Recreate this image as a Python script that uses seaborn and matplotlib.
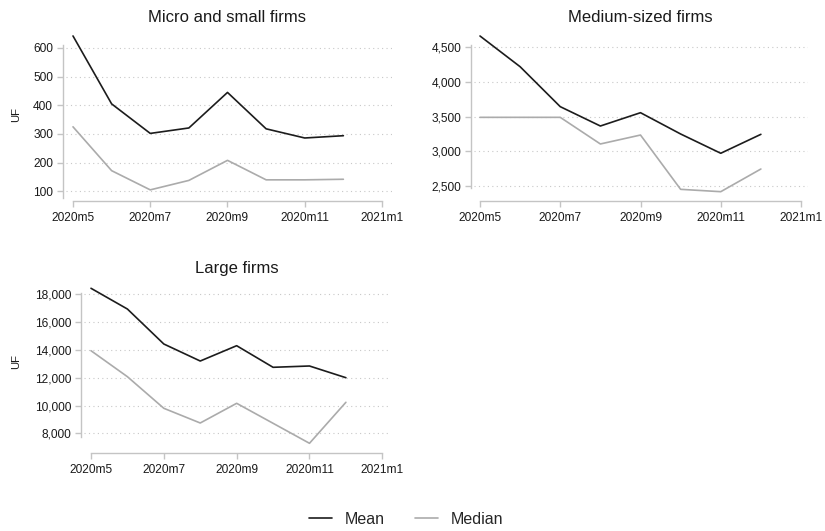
import numpy as np
import pandas as pd
import matplotlib
matplotlib.use("Agg")
import matplotlib.pyplot as plt
import seaborn as sns
from matplotlib.ticker import FuncFormatter
from matplotlib.lines import Line2D

# Monthly periods and axis labels
months = ["2020m5", "2020m6", "2020m7", "2020m8", "2020m9", "2020m10", "2020m11", "2020m12"]
tick_labels = ["2020m5", "2020m7", "2020m9", "2020m11", "2021m1"]
series_names = ["Mean", "Median"]

# Loan size in UF by firm size
micro_mean = [642, 405, 302, 321, 445, 318, 286, 294]
micro_median = [325, 172, 105, 138, 208, 140, 140, 142]
medium_mean = [4663, 4220, 3644, 3365, 3557, 3250, 2972, 3245]
medium_median = [3490, 3490, 3490, 3106, 3235, 2452, 2418, 2745]
large_mean = [18432, 16940, 14424, 13200, 14302, 12748, 12842, 12000]
large_median = [13942, 12072, 9799, 8741, 10158, 8720, 7281, 10230]

micro_ticks = [100, 200, 300, 400, 500, 600]
medium_ticks = [2500, 3000, 3500, 4000, 4500]
large_ticks = [8000, 10000, 12000, 14000, 16000, 18000]

sns.set_style("white")
plt.rcParams["font.family"] = ["Liberation Sans", "DejaVu Sans"]

W, H = 825, 531
fig = plt.figure(figsize=(W / 100, H / 100), dpi=100)

colors = {"Mean": "#1c1c1c", "Median": "#ababab"}
axis_gray = "#c4c4c4"


def long_frame(mean, median):
    n = len(months)
    return pd.DataFrame({
        "t": list(range(n)) * 2,
        "value": list(mean) + list(median),
        "stat": ["Mean"] * n + ["Median"] * n,
    })


def make_panel(box, xpx, yref):
    # box: left, top, right, bottom in pixels; xpx: pixel of first/last tick
    left, top, right, bottom = box
    ax = fig.add_axes([left / W, 1 - bottom / H, (right - left) / W, (bottom - top) / H])
    (v1, p1), (v2, p2) = yref
    k = (p1 - p2) / (v2 - v1)  # pixels per unit

    def val(py):
        return v1 + (p1 - py) / k

    mpx = (xpx[1] - xpx[0]) / 8.0
    ax.set_xlim(-(xpx[0] - left) / mpx, 8 + (right - xpx[1]) / mpx)
    ax.set_ylim(val(bottom), val(top))
    return ax, val


def style_panel(ax, val, spine_px, ticks, ylabel, thousands, bottom_px, xaxis_px, left_out_px):
    ax.set_yticks(ticks)
    if thousands:
        ax.yaxis.set_major_formatter(FuncFormatter(lambda v, p: f"{int(v):,}"))
    else:
        ax.yaxis.set_major_formatter(FuncFormatter(lambda v, p: f"{int(v)}"))
    ax.set_xticks([0, 2, 4, 6, 8])
    ax.set_xticklabels(tick_labels)
    for s in ["top", "right"]:
        ax.spines[s].set_visible(False)
    for s in ["left", "bottom"]:
        ax.spines[s].set_color(axis_gray)
        ax.spines[s].set_linewidth(1.0)
    ax.spines["left"].set_position(("outward", left_out_px * 0.72))
    ax.spines["left"].set_bounds(val(spine_px[1]), val(spine_px[0]))
    ax.spines["bottom"].set_position(("outward", (xaxis_px - bottom_px) * 0.72))
    ax.spines["bottom"].set_bounds(0, 8)
    ax.tick_params(axis="both", which="major", length=4.2, width=1.0, color=axis_gray,
                   labelsize=8.6, labelcolor="#1a1a1a", left=True, bottom=True, pad=3)
    ax.tick_params(axis="x", pad=4)
    ax.grid(axis="y", color="#c8c8c8", linestyle=(0, (1, 3)), linewidth=0.8)
    ax.grid(axis="x", visible=False)
    ax.set_xlabel("")
    if ylabel:
        ax.set_ylabel(ylabel, fontsize=8.2, color="#1a1a1a")
    else:
        ax.set_ylabel("")


panels = [
    dict(box=(66, 30, 392, 198), xpx=(73, 382), yref=((600, 48.0), (100, 191.3)),
         spine=(45, 198), ticks=micro_ticks, title="Micro and small firms", ylabel="UF",
         thousands=False, mean=micro_mean, median=micro_median, xaxis=200.7, title_base=21.5),
    dict(box=(474, 30, 808, 198), xpx=(480, 801), yref=((4500, 47.3), (2500, 186.0)),
         spine=(45, 188), ticks=medium_ticks, title="Medium-sized firms", ylabel=None,
         thousands=True, mean=medium_mean, median=medium_median, xaxis=200.7, title_base=21.5),
    dict(box=(84, 275, 390, 448), xpx=(91, 382.3), yref=((18000, 294.3), (8000, 433.3)),
         spine=(293, 437), ticks=large_ticks, title="Large firms", ylabel="UF",
         thousands=True, mean=large_mean, median=large_median, xaxis=452.5, title_base=272.5),
]

for p in panels:
    ax, val = make_panel(p["box"], p["xpx"], p["yref"])
    df = long_frame(p["mean"], p["median"])
    sns.lineplot(data=df, x="t", y="value", hue="stat", palette=colors, ax=ax,
                 linewidth=1.2, legend=False, clip_on=False)
    style_panel(ax, val, p["spine"], p["ticks"], p["ylabel"], p["thousands"],
                p["box"][3], p["xaxis"], 3)
    # panel title centred over the time axis
    cx = (p["xpx"][0] + p["xpx"][1]) / 2
    fig.text(cx / W, 1 - p["title_base"] / H, p["title"], ha="center", va="baseline",
             fontsize=12, color="#1a1a1a")
    if p["ylabel"]:
        ax.yaxis.set_label_coords((21 - p["box"][0]) / (p["box"][2] - p["box"][0]), 0.5)

handles = [Line2D([], [], color=colors[n], linewidth=1.2) for n in series_names]
fig.legend(handles, series_names, loc="center", bbox_to_anchor=(406 / W, 1 - 519 / H),
           ncol=2, frameon=False, fontsize=11.5, handlelength=1.45, columnspacing=1.9,
           handletextpad=0.8)

fig.savefig("out.png", dpi=100, facecolor="white")
